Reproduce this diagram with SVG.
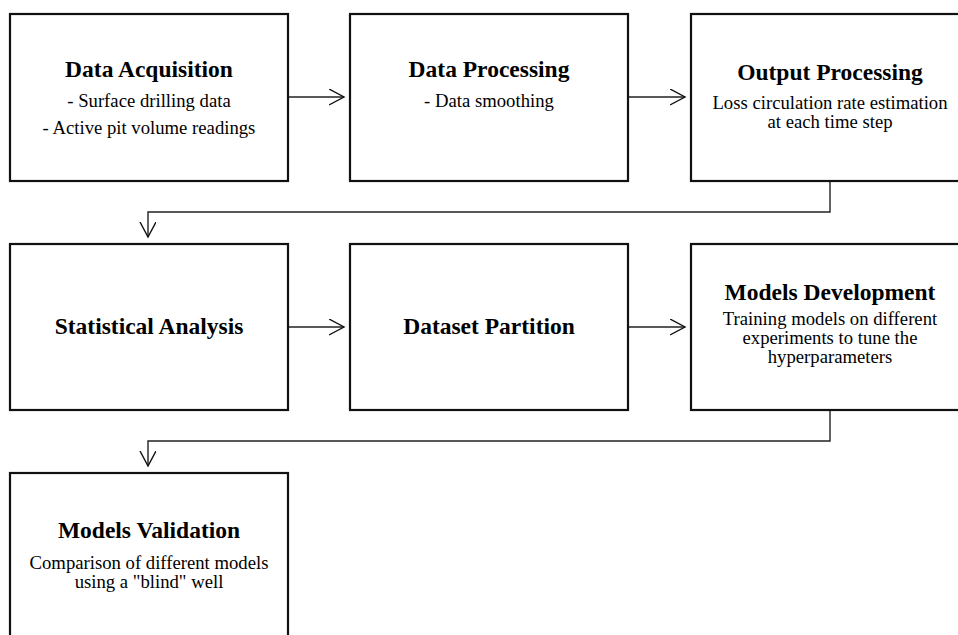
<svg xmlns="http://www.w3.org/2000/svg" width="958" height="635" viewBox="0 0 958 635">
<defs>
<marker id="arr" markerWidth="18" markerHeight="18" refX="15" refY="8" orient="auto" markerUnits="userSpaceOnUse">
<path d="M0,0 L15,8 L0,16" fill="none" stroke="#111" stroke-width="1.4"/>
</marker>
<style>
.box{fill:#fff;stroke:#111;stroke-width:2.2}
.t{font-family:"Liberation Serif","Times New Roman",serif;font-weight:bold;font-size:23.5px;text-anchor:middle;fill:#000}
.s{font-family:"Liberation Serif","Times New Roman",serif;font-size:18.7px;text-anchor:middle;fill:#000}
.c{fill:none;stroke:#222;stroke-width:1.4}
</style>
</defs>
<rect width="958" height="635" fill="#fff"/>
<g id="connectors">
<line class="c" x1="288" y1="97" x2="344" y2="97" marker-end="url(#arr)"/>
<line class="c" x1="628" y1="97" x2="685" y2="97" marker-end="url(#arr)"/>
<polyline class="c" points="830,181 830,212 148,212 148,237" marker-end="url(#arr)"/>
<line class="c" x1="288" y1="327" x2="344" y2="327" marker-end="url(#arr)"/>
<line class="c" x1="628" y1="327" x2="685" y2="327" marker-end="url(#arr)"/>
<polyline class="c" points="830,410 830,441 148,441 148,466" marker-end="url(#arr)"/>
</g>
<g id="n1">
<rect class="box" x="10" y="14" width="278" height="167"/>
<text class="t" x="149" y="77">Data Acquisition</text>
<text class="s" x="149" y="107"><tspan x="149">- Surface drilling data</tspan><tspan x="149" dy="27">- Active pit volume readings</tspan></text>
</g>
<g id="n2">
<rect class="box" x="350" y="14" width="278" height="167"/>
<text class="t" x="489" y="77">Data Processing</text>
<text class="s" x="489" y="107">- Data smoothing</text>
</g>
<g id="n3">
<rect class="box" x="691" y="14" width="278" height="167"/>
<text class="t" x="830" y="80">Output Processing</text>
<text class="s" x="830" y="109"><tspan x="830">Loss circulation rate estimation</tspan><tspan x="830" dy="19">at each time step</tspan></text>
</g>
<g id="n4">
<rect class="box" x="10" y="244" width="278" height="166"/>
<text class="t" x="149" y="334">Statistical Analysis</text>
</g>
<g id="n5">
<rect class="box" x="350" y="244" width="278" height="166"/>
<text class="t" x="489" y="334">Dataset Partition</text>
</g>
<g id="n6">
<rect class="box" x="691" y="244" width="278" height="166"/>
<text class="t" x="830" y="300">Models Development</text>
<text class="s" x="830" y="325"><tspan x="830">Training models on different</tspan><tspan x="830" dy="19">experiments to tune the</tspan><tspan x="830" dy="19">hyperparameters</tspan></text>
</g>
<g id="n7">
<rect class="box" x="10" y="473" width="278" height="170"/>
<text class="t" x="149" y="538">Models Validation</text>
<text class="s" x="149" y="569"><tspan x="149">Comparison of different models</tspan><tspan x="149" dy="19">using a "blind" well</tspan></text>
</g>
</svg>
